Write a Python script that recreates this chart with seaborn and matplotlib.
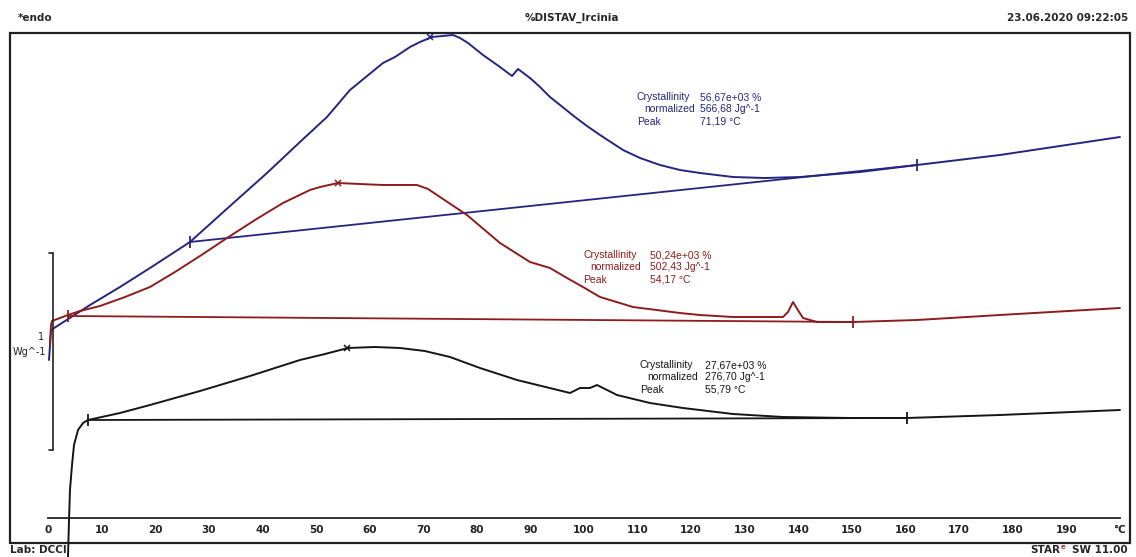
import numpy as np
import pandas as pd
import matplotlib
matplotlib.use("Agg")
import matplotlib.pyplot as plt
import seaborn as sns
from matplotlib.patches import Rectangle
from matplotlib.lines import Line2D
from matplotlib.ticker import MultipleLocator

# DSC curves, temperature in degC, heat flow in W/g (endo up, arbitrary offset)
blue_T = [0.19, 0.56, 7.84, 13.43, 19.03, 26.49, 33.96, 40.86, 47.01, 52.05, 56.34, 62.5, 64.74,
          67.54, 69.4, 71.64, 75.56, 76.87, 78.36, 81.16, 84.33, 86.57, 87.69, 89.93, 91.79,
          93.66, 98.32, 100.56, 102.99, 107.28, 110.45, 114.18, 117.9, 121.64, 127.8, 133.77,
          140.3, 151.49, 162.13, 177.6, 200.0]
blue_hf = [0.79, 0.94, 1.065, 1.155, 1.25, 1.38, 1.56, 1.725, 1.88, 2.005, 2.14, 2.275, 2.305,
           2.355, 2.38, 2.405, 2.415, 2.40, 2.375, 2.315, 2.255, 2.21, 2.245, 2.2, 2.155,
           2.105, 2.005, 1.96, 1.915, 1.84, 1.80, 1.765, 1.74, 1.725, 1.705, 1.70,
           1.705, 1.73, 1.765, 1.815, 1.905]

red_T = [0.37, 0.56, 0.75, 2.24, 3.73, 5.97, 9.7, 14.37, 19.03, 23.69, 28.36, 33.4, 38.62, 43.84,
         48.88, 50.75, 54.1, 58.2, 62.5, 68.84, 70.9, 73.13, 78.17, 84.33, 89.93, 93.66, 96.83,
         99.81, 102.99, 109.14, 117.91, 121.6, 127.8, 137.13, 138.06, 139.0, 139.9, 140.86,
         143.47, 150.19, 162.13, 177.6, 200.0]
red_hf = [0.865, 0.965, 0.985, 1.0, 1.015, 1.035, 1.06, 1.105, 1.155, 1.23, 1.31, 1.40, 1.49, 1.575,
          1.64, 1.655, 1.675, 1.67, 1.665, 1.665, 1.645, 1.605, 1.515, 1.375, 1.28, 1.25, 1.20,
          1.155, 1.105, 1.055, 1.025, 1.015, 1.005, 1.005, 1.03, 1.08, 1.04, 1.0,
          0.98, 0.98, 0.99, 1.015, 1.05]

black_T = [3.73, 3.92, 4.1, 4.48, 4.85, 5.6, 6.53, 7.46, 13.43, 19.03, 23.69, 28.36, 37.69, 47.01,
           51.68, 55.97, 61.0, 65.67, 70.3, 75.0, 80.6, 87.5, 97.39, 99.25, 101.12, 102.43,
           106.16, 112.31, 118.47, 127.8, 137.13, 149.63, 160.26, 177.6, 200.0]
black_hf = [-0.195, -0.01, 0.14, 0.265, 0.365, 0.44, 0.475, 0.49, 0.525, 0.565, 0.60, 0.635, 0.71, 0.79,
            0.82, 0.85, 0.855, 0.85, 0.835, 0.805, 0.75, 0.69, 0.625, 0.65, 0.65, 0.665,
            0.615, 0.575, 0.55, 0.52, 0.505, 0.50, 0.50, 0.515, 0.54]

# integration baselines (start, end)
blue_base_T = [26.49, 162.13]
blue_base_hf = [1.38, 1.765]
red_base_T = [3.73, 150.19]
red_base_hf = [1.01, 0.98]
black_base_T = [7.46, 160.26]
black_base_hf = [0.49, 0.50]

# peaks
peak_T = [71.19, 54.17, 55.79]
peak_hf = [2.405, 1.675, 0.85]

crystallinity = ["56,67e+03 %", "50,24e+03 %", "27,67e+03 %"]
normalized = ["566,68 Jg^-1", "502,43 Jg^-1", "276,70 Jg^-1"]
peak_labels = ["71,19 °C", "54,17 °C", "55,79 °C"]

tick_values = list(range(0, 201, 10))
tick_labels = [str(v) for v in range(0, 200, 10)] + ["°C"]

colors = ["#25257f", "#8e1c1c", "#151515"]

sns.set_style("white")
plt.rcParams['font.family'] = ['DejaVu Sans']
narrow = ['Liberation Sans Narrow', 'Liberation Sans', 'DejaVu Sans']

W, H = 1136, 557
fig = plt.figure(figsize=(W / 100, H / 100), dpi=100)
ax = fig.add_axes([10 / W, 14 / H, 1120 / W, 510 / H])
ax.set_facecolor("none")

curves = [(blue_T, blue_hf), (red_T, red_hf), (black_T, black_hf)]
bases = [(blue_base_T, blue_base_hf), (red_base_T, red_base_hf), (black_base_T, black_base_hf)]

for i, ((t, hf), (bt, bhf)) in enumerate(zip(curves, bases)):
    df = pd.DataFrame({"T": t, "hf": hf})
    sns.lineplot(data=df, x="T", y="hf", ax=ax, color=colors[i], lw=1.4,
                 sort=False, estimator=None, clip_on=(i != 2),
                 solid_joinstyle="round", solid_capstyle="round")
    bdf = pd.DataFrame({"T": bt, "hf": bhf})
    sns.lineplot(data=bdf, x="T", y="hf", ax=ax, color=colors[i], lw=1.3,
                 sort=False, estimator=None)
    ax.plot(bt, bhf, ls="none", marker="|", ms=9, mew=1.3, color=colors[i])
    ax.plot([peak_T[i]], [peak_hf[i]], ls="none", marker="x", ms=4.5, mew=1.1, color=colors[i])

ax.set_xlim(-7.09, 201.87)
ax.set_ylim(-0.125, 2.425)
ax.set_xlabel("")
ax.set_ylabel("")
ax.set_yticks([])

# temperature axis drawn inside the frame
for s in ["left", "right", "top"]:
    ax.spines[s].set_visible(False)
ax.spines["bottom"].set_position(("data", 0))
ax.spines["bottom"].set_bounds(0, 200)
ax.spines["bottom"].set_linewidth(1.3)
ax.spines["bottom"].set_color("#222222")
ax.set_xticks(tick_values)
ax.set_xticklabels(tick_labels)
ax.xaxis.set_minor_locator(MultipleLocator(2))
ax.tick_params(axis="x", which="major", direction="in", length=5, width=1.1,
               color="#222222", labelsize=7.5, pad=5, labelcolor="#222222")
ax.tick_params(axis="x", which="minor", direction="in", length=3, width=1.0, color="#222222")
for lab in ax.get_xticklabels():
    lab.set_fontweight("semibold")

ax.add_patch(Rectangle((0, 0), 1, 1, transform=ax.transAxes, fill=False,
                       lw=1.6, ec="#222222", clip_on=False))

# scale bracket on the left
def px(x, y):
    return x / W, 1 - y / H

for seg in [((49, 253), (53, 253)), ((53, 253), (53, 450)), ((53, 450), (49, 450))]:
    (x0, y0), (x1, y1) = px(*seg[0]), px(*seg[1])
    fig.add_artist(Line2D([x0, x1], [y0, y1], color="#222222", lw=1.2))
fig.text(*px(44, 337), "1", fontsize=7, ha="right", va="center", color="#222222")
fig.text(*px(46, 352), "Wg^-1", fontsize=7, ha="right", va="center", color="#222222")

# header / footer
fig.text(*px(18, 18), "*endo", fontsize=7.5, fontweight="bold", ha="left", va="center")
fig.text(*px(572, 18), "%DISTAV_Ircinia", fontsize=7.5, fontweight="bold", ha="center", va="center")
fig.text(*px(1128, 18), "23.06.2020 09:22:05", fontsize=7.5, fontweight="bold", ha="right", va="center")
fig.text(*px(10, 550), "Lab: DCCI", fontsize=7.5, fontweight="bold", ha="left", va="center")
fig.text(*px(1128, 550), "SW 11.00", fontsize=7.5, fontweight="bold", ha="right", va="center")
fig.text(*px(1060, 550), "STAR", fontsize=7.5, fontweight="bold", ha="right", va="center")
fig.text(*px(1061, 547), "e", fontsize=5, fontweight="bold", ha="left", va="center", color="#c0282d")

# integration results
ann_pos = [(637, 700, 97), (583, 650, 255), (640, 705, 365)]
for i, (lx, vx, y0) in enumerate(ann_pos):
    rows = [("Crystallinity", crystallinity[i], lx), ("normalized", normalized[i], lx + 7),
            ("Peak", peak_labels[i], lx)]
    for j, (lab, val, x) in enumerate(rows):
        yy = y0 + j * 12.5
        fig.text(*px(x, yy), lab, fontsize=7.5, ha="left", va="center", color=colors[i],
                 family=narrow)
        fig.text(*px(vx, yy), val, fontsize=7.5, ha="left", va="center", color=colors[i],
                 family=narrow)

fig.savefig("out.png", dpi=100)
